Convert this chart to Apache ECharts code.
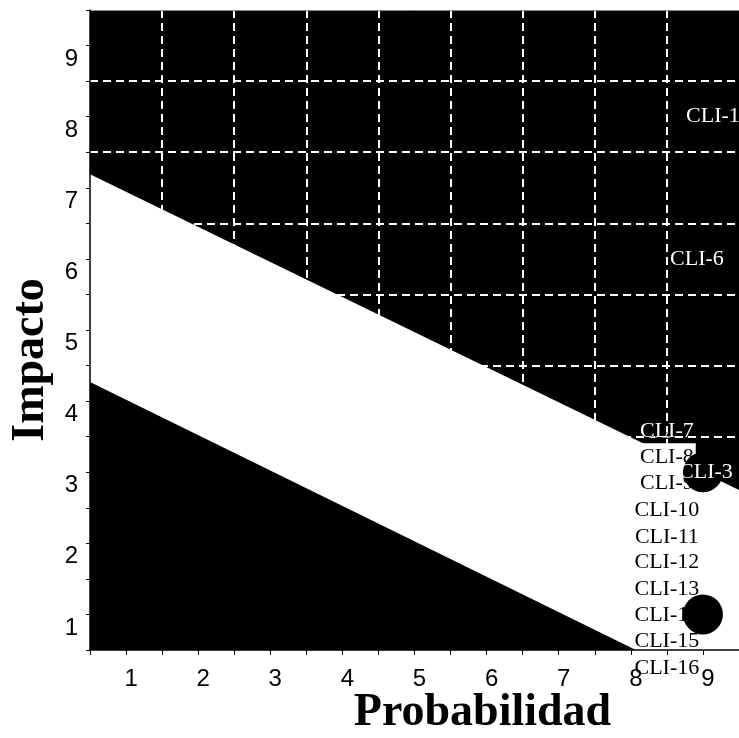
<!DOCTYPE html>
<html>
<head>
<meta charset="utf-8">
<script src="https://cdn.jsdelivr.net/npm/echarts@6/dist/echarts.min.js"></script>
<style>
html,body{margin:0;padding:0;background:#fff;}
#chart{width:739px;height:738px;}
</style>
</head>
<body>
<div id="chart"></div>
<script>
// ---- data ----
const tickLabels = ['1','2','3','4','5','6','7','8','9'];
const upperEdgeX = [0.5, 9.5];
const upperEdgeY = [7.19, 2.75];
const lowerEdgeX = [0.5, 8.07];
const lowerEdgeY = [4.27, 0.5];
const highNames = ['CLI-1', 'CLI-6'];
const highX = [9, 9];
const highY = [8, 6];
const dotNames = ['CLI-3', ''];
const dotX = [9, 9];
const dotY = [3, 1];
const listNames = ['CLI-7','CLI-8','CLI-9','CLI-10','CLI-11','CLI-12','CLI-13','CLI-14','CLI-15','CLI-16'];
const listX = [8.5, 8.5, 8.5, 8.5, 8.5, 8.5, 8.5, 8.5, 8.5, 8.5];
const listY = [3.58, 3.21, 2.85, 2.47, 2.09, 1.74, 1.36, 0.99, 0.63, 0.25];

// ---- build ----
const zip = (xs, ys) => xs.map((x, i) => [x, ys[i]]);
const tickText = v => { const s = String(Math.round(v * 100) / 100); return tickLabels.indexOf(s) >= 0 ? s : ''; };
const serif = "'Liberation Serif','Times New Roman',serif";
const sans = "'Liberation Sans',Arial,sans-serif";
const baseLabel = { show: true, position: 'inside', formatter: '{b}', fontFamily: serif, fontSize: 22, textBorderWidth: 0 };

const listData = listNames.map((n, i) => {
  const item = { name: n, value: [listX[i], listY[i]] };
  if (i === 0) {
    item.label = { color: '#fff', textBorderColor: '#000', textBorderWidth: 1 };
  } else if (i <= 7) {
    item.label = { backgroundColor: '#fff', padding: [3, 2, 3, 2] };
  }
  return item;
});
const highOffsets = [[10, 0], [-6, 0]];
const highData = highNames.map((n, i) => ({ name: n, value: [highX[i], highY[i]], label: { offset: highOffsets[i] } }));
const dotData = dotNames.map((n, i) => ({ name: n, value: [dotX[i], dotY[i]] }));

const chart = echarts.init(document.getElementById('chart'), null, { renderer: 'canvas' });
const option = {
  animation: false,
  backgroundColor: '#fff',
  grid: { left: 90, right: 0, top: 10, bottom: 88, containLabel: false, outerBoundsMode: 'none' },
  xAxis: [
    {
      type: 'value', min: 0.5, max: 9.5, interval: 0.5, position: 'bottom', z: 6,
      axisLine: { show: true, onZero: false, lineStyle: { color: '#000', width: 1.5 } },
      axisTick: { show: true, length: 5, lineStyle: { color: '#000' } },
      axisLabel: { formatter: tickText, fontFamily: sans, fontSize: 24, color: '#000', margin: 17, padding: [0, 0, 0, 10] },
      splitLine: { show: false },
      name: 'Probabilidad', nameLocation: 'middle', nameGap: 40, nameMoveOverlap: false,
      nameTextStyle: { fontFamily: serif, fontWeight: 'bold', fontSize: 46, color: '#000', padding: [0, 0, 0, 136] }
    },
    {
      type: 'value', min: 0.5, max: 9.5, interval: 1, position: 'top', z: 2,
      axisLine: { show: true, onZero: false, lineStyle: { color: '#888', width: 1 } },
      axisTick: { show: false }, axisLabel: { show: false },
      splitLine: { show: true, showMinLine: false, showMaxLine: false, lineStyle: { color: '#fff', width: 2, type: [8, 5] } }
    }
  ],
  yAxis: [
    {
      type: 'value', min: 0.5, max: 9.5, interval: 0.5, position: 'left', z: 6,
      axisLine: { show: true, onZero: false, lineStyle: { color: '#000', width: 1.5 } },
      axisTick: { show: true, length: 4, lineStyle: { color: '#000' } },
      axisLabel: { formatter: v => { const t = tickText(v); return t ? '\n' + t : ''; }, fontFamily: sans, fontSize: 24, lineHeight: 27, color: '#000', margin: 12, verticalAlign: 'middle' },
      splitLine: { show: false },
      name: 'Impacto', nameLocation: 'middle', nameGap: 36,
      nameTextStyle: { fontFamily: serif, fontWeight: 'bold', fontSize: 46, color: '#000', padding: [0, 60, 0, 0] }
    },
    {
      type: 'value', min: 0.5, max: 9.5, interval: 1, position: 'right', z: 2,
      axisLine: { show: true, onZero: false, lineStyle: { color: '#888', width: 1 } },
      axisTick: { show: false }, axisLabel: { show: false },
      splitLine: { show: true, showMinLine: false, showMaxLine: false, lineStyle: { color: '#fff', width: 2, type: [8, 5] } }
    }
  ],
  series: [
    {
      name: 'upper', type: 'line', xAxisIndex: 0, yAxisIndex: 0, z: 1, silent: true,
      data: zip(upperEdgeX, upperEdgeY), symbol: 'none',
      lineStyle: { width: 0 }, areaStyle: { color: '#000', opacity: 1, origin: 'end' }
    },
    {
      name: 'lower', type: 'line', xAxisIndex: 0, yAxisIndex: 0, z: 3, silent: true,
      data: zip(lowerEdgeX, lowerEdgeY), symbol: 'none',
      lineStyle: { width: 0 }, areaStyle: { color: '#000', opacity: 1, origin: 'start' }
    },
    {
      name: 'list', type: 'scatter', xAxisIndex: 0, yAxisIndex: 0, z: 4, silent: true, clip: false,
      symbolSize: 0.01, itemStyle: { color: '#000', opacity: 1 },
      data: listData,
      label: Object.assign({}, baseLabel, { color: '#000' })
    },
    {
      name: 'high', type: 'scatter', xAxisIndex: 0, yAxisIndex: 0, z: 4, silent: true, clip: false,
      symbolSize: 0.01, itemStyle: { color: '#000', opacity: 1 },
      data: highData,
      label: Object.assign({}, baseLabel, { color: '#fff' })
    },
    {
      name: 'dots', type: 'scatter', xAxisIndex: 0, yAxisIndex: 0, z: 5, silent: true, clip: false,
      symbolSize: 40, itemStyle: { color: '#000', opacity: 1 },
      data: dotData,
      label: Object.assign({}, baseLabel, { color: '#fff', offset: [3, 0] })
    }
  ]
};
chart.setOption(option);
</script>
</body>
</html>
